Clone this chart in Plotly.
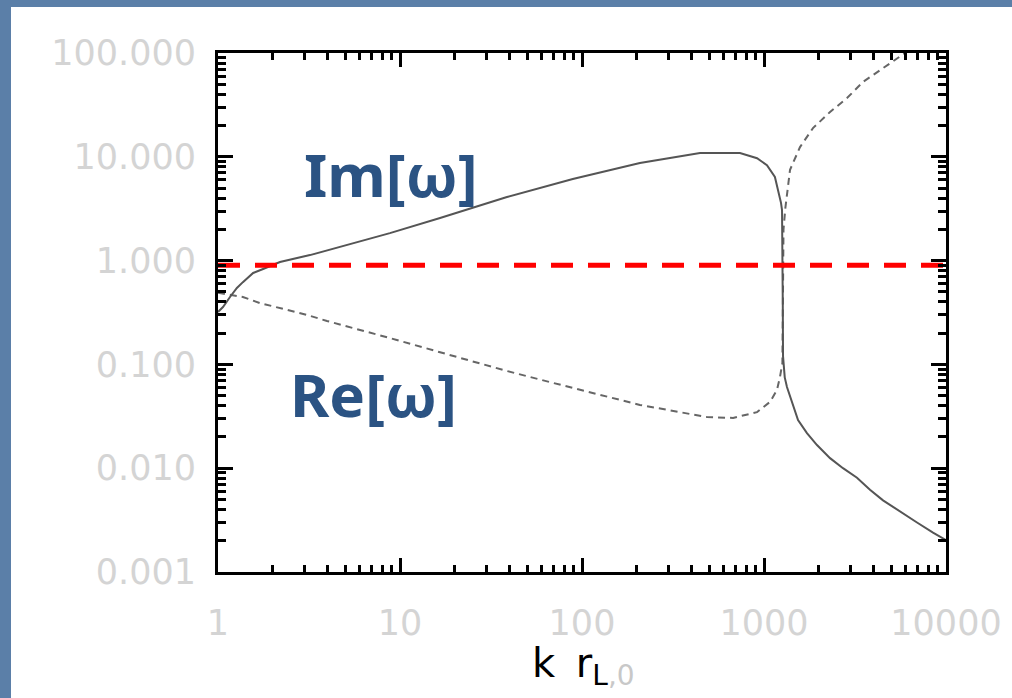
import plotly.graph_objects as go

# ---- data (log-log) ----
im_k = [1.0, 1.065, 1.164, 1.27, 1.37, 1.56, 1.77, 2.19, 3.2, 5.3, 8.8, 16.6, 38.7, 89,
        208, 445, 738, 916, 1038, 1148, 1194, 1240, 1256, 1263, 1268, 1272, 1300, 1337,
        1426, 1538, 1722, 1955, 2306, 2717, 3243, 3822, 4508, 5589, 6930, 8485, 10000]
im_w = [0.32, 0.357, 0.446, 0.545, 0.62, 0.76, 0.83, 0.97, 1.13, 1.44, 1.84, 2.57, 4.1, 6.1,
        8.7, 10.9, 10.9, 9.7, 8.3, 6.4, 4.8, 3.6, 3.07, 1.5, 0.4, 0.12, 0.075, 0.0605,
        0.0425, 0.0291, 0.0218, 0.0167, 0.0125, 0.010, 0.0081, 0.0062, 0.0049, 0.0038, 0.0030, 0.0024, 0.00203]

re_k = [1.0, 1.21, 1.37, 1.70, 2.28, 3.08, 3.97, 5.3, 7.1, 9.6, 16.6, 38.7, 89, 208, 486,
        676, 916, 1079, 1178, 1224, 1262, 1268, 1280, 1310, 1337, 1390, 1577, 1858, 2306,
        2858, 3500, 4508, 5589, 5956]
re_w = [0.49, 0.467, 0.446, 0.39, 0.342, 0.30, 0.262, 0.229, 0.201, 0.172, 0.131, 0.0863, 0.0593,
        0.0407, 0.0311, 0.0305, 0.0347, 0.0435, 0.0566, 0.0757, 0.103, 0.5, 2.0, 3.2, 4.5, 7.5,
        12.4, 18.9, 27, 36.8, 52.6, 71.7, 91.5, 100]

threshold_k = [1, 10000]
threshold_w = [0.9, 0.9]

x_ticks = [1, 10, 100, 1000, 10000]
x_ticktext = ["1", "10", "100", "1000", "10000"]
y_ticks = [0.001, 0.01, 0.1, 1, 10, 100]
y_ticktext = ["0.001", "0.010", "0.100", "1.000", "10.000", "100.000"]

labels = ["Im[ω]", "Re[ω]"]
x_title = ("k \u2009r<sub><span style='color:black'>L</span>"
           "<span style='color:#c8c8c8'>,0</span></sub>")

# minor tick positions (2..9 in each decade)
x_minor = [m * 10 ** d for d in range(0, 4) for m in range(2, 10)]
y_minor = [m * 10.0 ** d for d in range(-3, 2) for m in range(2, 10)]

W, H = 1012, 698
L, R, T, B = 218, 66, 53, 126
pw, ph = W - L - R, H - T - B


def px_x(p):
    return (p - L) / pw


def px_y(p):
    return (H - B - p) / ph


fig = go.Figure()
fig.add_trace(go.Scatter(x=re_k, y=re_w, mode="lines",
                         line=dict(color="#666666", width=2, dash="7px,5px"),
                         showlegend=False, hoverinfo="skip"))
fig.add_trace(go.Scatter(x=im_k, y=im_w, mode="lines",
                         line=dict(color="#555555", width=2),
                         showlegend=False, hoverinfo="skip"))
fig.add_trace(go.Scatter(x=threshold_k, y=threshold_w, mode="lines",
                         line=dict(color="#ff0000", width=5, dash="22px,15px"),
                         showlegend=False, hoverinfo="skip"))

tickfont = dict(family="DejaVu Sans", size=35, color="#d4d4d4")

fig.update_xaxes(type="log", range=[0, 4], showline=True, linecolor="black", linewidth=3,
                 mirror="ticks", ticks="inside", ticklen=14, tickwidth=3, tickcolor="black",
                 tickmode="array", tickvals=x_ticks, ticktext=x_ticktext,
                 tickfont=tickfont, ticklabelstandoff=18, showgrid=False, zeroline=False,
                 minor=dict(tickmode="array", tickvals=x_minor, ticks="inside", ticklen=7,
                            tickwidth=3, tickcolor="black", showgrid=False))
fig.update_yaxes(type="log", range=[-3, 2], showline=True, linecolor="black", linewidth=3,
                 mirror="ticks", ticks="inside", ticklen=15, tickwidth=3, tickcolor="black",
                 tickmode="array", tickvals=y_ticks, ticktext=y_ticktext,
                 tickfont=tickfont, ticklabelstandoff=12, showgrid=False, zeroline=False,
                 minor=dict(tickmode="array", tickvals=y_minor, ticks="inside", ticklen=8,
                            tickwidth=3, tickcolor="black", showgrid=False))

label_font = dict(family="Noto Sans", size=60, color="#2b5383", weight="bold")
fig.add_annotation(text=labels[0], xref="paper", yref="paper", x=px_x(391), y=px_y(174),
                   showarrow=False, font=label_font, xanchor="center", yanchor="middle")
fig.add_annotation(text=labels[1], xref="paper", yref="paper", x=px_x(373), y=px_y(394),
                   showarrow=False, font=label_font, xanchor="center", yanchor="middle")

fig.add_annotation(text=x_title,
                   xref="paper", yref="paper", x=px_x(583), y=px_y(666),
                   showarrow=False, xanchor="center", yanchor="middle",
                   font=dict(family="DejaVu Sans", size=40, color="black"))

# white panel on blue background
fig.add_shape(type="rect", xref="paper", yref="paper", layer="below",
              x0=px_x(11), x1=px_x(W + 5), y0=px_y(H + 5), y1=px_y(7),
              fillcolor="white", line=dict(width=0))

fig.update_layout(width=W, height=H, margin=dict(l=L, r=R, t=T, b=B, autoexpand=False),
                  paper_bgcolor="#5b7fa8", plot_bgcolor="white")

fig.write_html("out.html", config={"displayModeBar": False},
               post_script="document.body.style.margin='0';document.body.style.overflow='hidden';")
